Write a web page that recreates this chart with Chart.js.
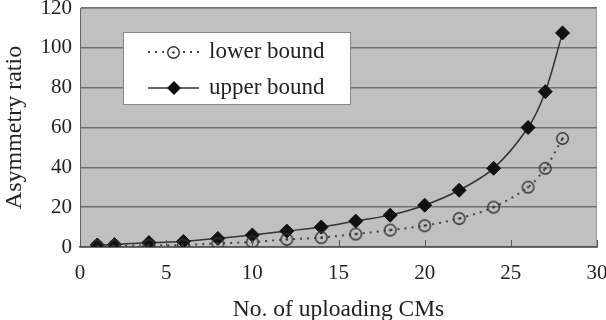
<!DOCTYPE html>
<html>
<head>
<meta charset="utf-8">
<script src="https://cdn.jsdelivr.net/npm/chart.js@4"></script>
<style>
  html, body { margin: 0; padding: 0; background: #fff; }
  #wrap { width: 606px; height: 320px; }
</style>
</head>
<body>
<div id="wrap"><canvas id="c" width="606" height="320"></canvas></div>
<script>
'use strict';

// values
const uploadingCMs = [1, 2, 4, 6, 8, 10, 12, 14, 16, 18, 20, 22, 24, 26, 27, 28];
const lowerBound = [0.5, 0.6, 0.8, 1, 1.8, 2.5, 3.8, 4.7, 6.5, 8.5, 10.7, 14.3, 20, 30, 39.5, 54.5];
const upperBound = [1, 1.2, 2.2, 2.8, 4.3, 6, 8, 10, 13, 16, 21, 28.5, 39.5, 60, 78, 107.5];
const seriesNames = ['lower bound', 'upper bound'];

const FONT = "'Liberation Serif', 'Times New Roman', serif";
const INK = '#222';

// hollow circle with a dot in the middle, used as the lower bound marker
function ringMarker() {
  const cv = document.createElement('canvas');
  cv.width = 15;
  cv.height = 15;
  const g = cv.getContext('2d');
  g.strokeStyle = '#333';
  g.lineWidth = 1.4;
  g.beginPath();
  g.arc(7.5, 7.5, 5.8, 0, Math.PI * 2);
  g.stroke();
  g.fillStyle = '#333';
  g.beginPath();
  g.arc(7.5, 7.5, 1.2, 0, Math.PI * 2);
  g.fill();
  return cv;
}
const ring = ringMarker();

const toPoints = (ys) => ys.map((y, i) => ({ x: uploadingCMs[i], y }));

// grey plot background, plus the short tick marks that point up into the plot
const plotBackground = {
  id: 'plotBackground',
  beforeDraw(chart) {
    const { ctx, chartArea: a } = chart;
    ctx.save();
    ctx.fillStyle = '#c0c0c0';
    ctx.fillRect(a.left, a.top, a.right - a.left, a.bottom - a.top);
    ctx.strokeStyle = '#9a9a9a';
    ctx.lineWidth = 1;
    ctx.strokeRect(a.left + 0.5, a.top + 0.5, a.right - a.left - 1, a.bottom - a.top);
    ctx.restore();
  },
  afterDatasetsDraw(chart) {
    const { ctx, chartArea: a, scales } = chart;
    ctx.save();
    ctx.strokeStyle = '#555';
    ctx.lineWidth = 1;
    scales.x.ticks.forEach((t) => {
      const px = Math.round(scales.x.getPixelForValue(t.value)) + 0.5;
      ctx.beginPath();
      ctx.moveTo(px, a.bottom);
      ctx.lineTo(px, a.bottom - 7);
      ctx.stroke();
    });
    ctx.restore();
  },
};

// boxed legend sitting inside the plot, with line + marker samples
const boxLegend = {
  id: 'boxLegend',
  afterDraw(chart) {
    const { ctx, chartArea: a } = chart;
    const x0 = a.left + 43, y0 = a.top + 24, w = 227, h = 72;
    ctx.save();
    ctx.fillStyle = '#fff';
    ctx.fillRect(x0, y0, w, h);
    ctx.strokeStyle = '#888';
    ctx.lineWidth = 1;
    ctx.strokeRect(x0 + 0.5, y0 + 0.5, w, h);

    const rows = [y0 + 20, y0 + 56];
    chart.data.datasets.forEach((ds, i) => {
      const y = rows[i];
      ctx.strokeStyle = ds.borderColor;
      ctx.lineWidth = ds.borderWidth;
      ctx.setLineDash(ds.borderDash || []);
      ctx.beginPath();
      ctx.moveTo(x0 + 25, y);
      ctx.lineTo(x0 + 76, y);
      ctx.stroke();
      ctx.setLineDash([]);
      if (ds.pointStyle === 'rectRot') {
        ctx.fillStyle = '#111';
        ctx.beginPath();
        ctx.moveTo(x0 + 51, y - 7);
        ctx.lineTo(x0 + 58, y);
        ctx.lineTo(x0 + 51, y + 7);
        ctx.lineTo(x0 + 44, y);
        ctx.closePath();
        ctx.fill();
      } else {
        ctx.fillStyle = '#fff';
        ctx.fillRect(x0 + 43, y - 7, 15, 15);
        ctx.drawImage(ring, x0 + 43, y - 7);
      }
      ctx.fillStyle = INK;
      ctx.font = '23px ' + FONT;
      ctx.textBaseline = 'middle';
      ctx.fillText(ds.label, x0 + 86, y);
    });
    ctx.restore();
  },
};

new Chart(document.getElementById('c'), {
  type: 'line',
  data: {
    datasets: [
      {
        label: seriesNames[0],
        data: toPoints(lowerBound),
        borderColor: '#444',
        borderWidth: 2,
        borderDash: [2, 5],
        pointStyle: ring,
        pointRadius: 6,
        tension: 0.3,
      },
      {
        label: seriesNames[1],
        data: toPoints(upperBound),
        borderColor: '#333',
        borderWidth: 1.5,
        pointStyle: 'rectRot',
        pointRadius: 7,
        pointBackgroundColor: '#111',
        pointBorderColor: '#111',
        pointBorderWidth: 1,
        tension: 0.3,
      },
    ],
  },
  options: {
    responsive: false,
    animation: false,
    layout: { padding: { top: 7, right: 9, left: 0, bottom: 0 } },
    plugins: {
      legend: { display: false },
      tooltip: { enabled: false },
    },
    scales: {
      x: {
        type: 'linear',
        min: 0,
        max: 30,
        ticks: { stepSize: 5, color: INK, font: { family: FONT, size: 21 }, padding: 14 },
        grid: { display: false, drawTicks: false },
        border: { display: true, color: '#555', width: 1.5 },
        title: {
          display: true,
          text: 'No. of uploading CMs',
          color: INK,
          font: { family: FONT, size: 23.5 },
          padding: { top: 14, bottom: -4 },
        },
        afterFit: (axis) => {
          axis.height = 73;
          axis.paddingLeft = 0;
          axis.paddingRight = 0;
        },
      },
      y: {
        min: 0,
        max: 120,
        ticks: { stepSize: 20, color: INK, font: { family: FONT, size: 21 }, padding: 8 },
        grid: { color: '#707070', lineWidth: 1.5, drawTicks: false },
        border: { display: true, color: '#666', width: 1 },
        title: {
          display: true,
          text: 'Asymmetry ratio',
          color: INK,
          font: { family: FONT, size: 24 },
          padding: { top: 0, bottom: 4 },
        },
        afterFit: (axis) => {
          axis.width = 80;
          axis.paddingTop = 0;
          axis.paddingBottom = 0;
        },
      },
    },
  },
  plugins: [plotBackground, boxLegend],
});
</script>
</body>
</html>
